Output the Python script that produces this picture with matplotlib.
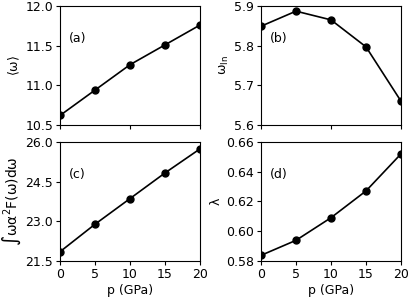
import matplotlib
matplotlib.use("Agg")
import matplotlib.pyplot as plt

plt.rcParams['mathtext.default'] = 'regular'
plt.rcParams['font.size'] = 9
plt.rcParams['xtick.major.size'] = 3
plt.rcParams['ytick.major.size'] = 3
plt.rcParams['xtick.major.pad'] = 2
plt.rcParams['ytick.major.pad'] = 2
plt.rcParams['axes.labelpad'] = 2

p = [0, 5, 10, 15, 20]
omega_avg = [10.62, 10.94, 11.26, 11.51, 11.76]
omega_ln = [5.849, 5.887, 5.865, 5.797, 5.660]
integral = [21.85, 22.89, 23.86, 24.83, 25.74]
lam = [0.5838, 0.5939, 0.6091, 0.6271, 0.652]

fig = plt.figure(figsize=(4.11, 2.98), dpi=100)
L1, R1 = 60/411, 200/411
L2, R2 = 261/411, 401/411
T1, B1 = 1-6/298, 1-125/298
T2, B2 = 1-142/298, 1-261/298

specs = [
    ((L1, B1, R1-L1, T1-B1), omega_avg, r'$\langle\omega\rangle$', 9, (10.5, 12.0), [10.5, 11.0, 11.5, 12.0], '{:.1f}', '(a)', False),
    ((L2, B1, R2-L2, T1-B1), omega_ln, r'$\omega_{ln}$', 9, (5.6, 5.9), [5.6, 5.7, 5.8, 5.9], '{:.1f}', '(b)', False),
    ((L1, B2, R1-L1, T2-B2), integral, r'$\int\omega\alpha^2F(\omega)d\omega$', 10, (21.5, 26.0), [21.5, 23.0, 24.5, 26.0], '{:.1f}', '(c)', True),
    ((L2, B2, R2-L2, T2-B2), lam, r'$\lambda$', 9, (0.58, 0.66), [0.58, 0.60, 0.62, 0.64, 0.66], '{:.2f}', '(d)', True),
]

for rect, y, ylabel, yfs, ylim, yt, fmt, tag, bottom in specs:
    ax = fig.add_axes(rect)
    ax.plot(p, y, '-o', color='black', lw=1.2, ms=5)
    ax.set_xlim(0, 20)
    ax.set_ylim(*ylim)
    ax.set_yticks(yt)
    ax.set_yticklabels([fmt.format(v) for v in yt])
    if bottom:
        ax.set_xticks(p)
        ax.set_xlabel('p (GPa)')
    else:
        ax.set_xticks([0, 10, 20])
        ax.set_xticklabels([])
    ax.set_ylabel(ylabel, fontsize=yfs)
    ax.text(0.06, 0.73, tag, transform=ax.transAxes, va='center', fontsize=9)

fig.savefig('out.png', dpi=100)
